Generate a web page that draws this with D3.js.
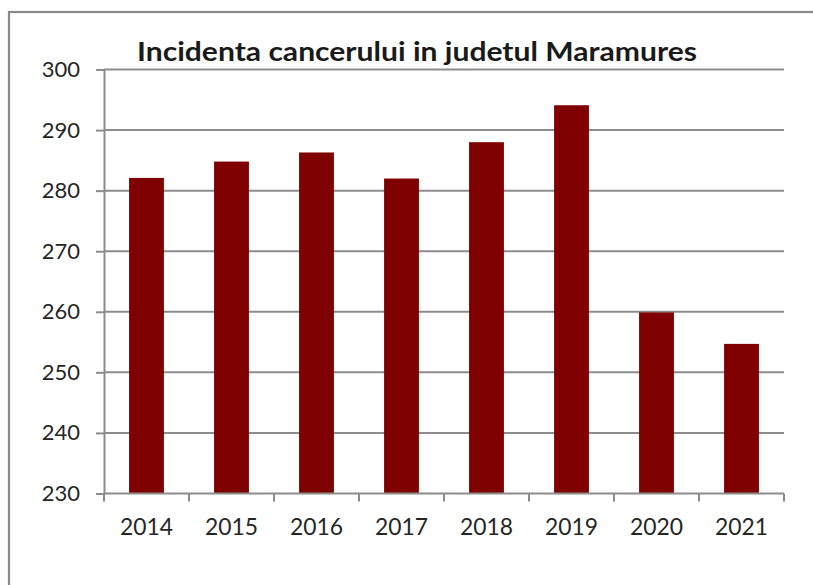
<!DOCTYPE html>
<html>
<head>
<meta charset="utf-8">
<script src="https://cdn.jsdelivr.net/npm/d3@7"></script>
<style>
  html, body { margin: 0; padding: 0; background: #fff; overflow: hidden; }
  svg { display: block; }
  text { font-family: Lato, "Liberation Sans", sans-serif; fill: #262626; }
</style>
</head>
<body>
<svg id="chart" width="813" height="585"></svg>
<script>
// Annual cancer incidence, Maramures county
const years = ["2014", "2015", "2016", "2017", "2018", "2019", "2020", "2021"];
const incidence = [282.1, 284.8, 286.3, 282.0, 288.0, 294.1, 259.9, 254.7];
const yTicks = [230, 240, 250, 260, 270, 280, 290, 300];
const chartTitle = "Incidenta cancerului  in judetul Maramures";

const svg = d3.select("#chart");
const W = 813, H = 585;
const plot = { left: 104, right: 784, top: 69.5, bottom: 493.5 };

// Outer frame (only the top and left edges fall inside the view)
svg.append("rect")
  .attr("x", 9).attr("y", 12)
  .attr("width", W + 20).attr("height", H + 20)
  .attr("fill", "none")
  .attr("stroke", "#8a8a8a")
  .attr("stroke-width", 2.2);

const x = d3.scaleBand()
  .domain(years)
  .range([plot.left, plot.right])
  .paddingInner(0.59)
  .paddingOuter(0.295);

const y = d3.scaleLinear()
  .domain([230, 300])
  .range([plot.bottom, plot.top]);

// Horizontal gridlines
svg.append("g")
  .selectAll("line")
  .data(yTicks.filter(t => t > 230))
  .join("line")
  .attr("x1", plot.left).attr("x2", plot.right)
  .attr("y1", d => y(d)).attr("y2", d => y(d))
  .attr("stroke", "#8c8c8c")
  .attr("stroke-width", 2);

// Bars
svg.append("g")
  .selectAll("rect")
  .data(years.map((yr, i) => ({ yr, v: incidence[i] })))
  .join("rect")
  .attr("x", d => x(d.yr))
  .attr("width", x.bandwidth())
  .attr("y", d => y(d.v))
  .attr("height", d => y(230) - y(d.v))
  .attr("fill", "#7f0000");

// Y axis
const yAxis = d3.axisLeft(y)
  .tickValues(yTicks)
  .tickSize(8)
  .tickPadding(16)
  .tickFormat(d3.format("d"));
const gy = svg.append("g")
  .attr("transform", `translate(${plot.left},0)`)
  .call(yAxis);
gy.select(".domain").attr("stroke", "#8c8c8c").attr("stroke-width", 2);
gy.selectAll(".tick line").attr("stroke", "#8c8c8c").attr("stroke-width", 2);
gy.selectAll(".tick text")
  .attr("font-size", 22)
  .attr("fill", "#262626")
  .style("font-family", "Lato, sans-serif");

// X axis: ticks sit on category boundaries
const step = x.step();
const boundaries = d3.range(years.length + 1).map(i => plot.left + i * step);
const gx = svg.append("g");
gx.append("line")
  .attr("x1", plot.left).attr("x2", plot.right)
  .attr("y1", plot.bottom).attr("y2", plot.bottom)
  .attr("stroke", "#8c8c8c").attr("stroke-width", 2);
gx.selectAll("line.tick")
  .data(boundaries)
  .join("line")
  .attr("class", "tick")
  .attr("x1", d => d).attr("x2", d => d)
  .attr("y1", plot.bottom).attr("y2", plot.bottom + 8)
  .attr("stroke", "#8c8c8c").attr("stroke-width", 2);
gx.selectAll("text")
  .data(years)
  .join("text")
  .attr("x", d => x(d) + x.bandwidth() / 2)
  .attr("y", 535)
  .attr("text-anchor", "middle")
  .attr("font-size", 22.5)
  .attr("textLength", 53)
  .attr("lengthAdjust", "spacingAndGlyphs")
  .text(d => d);

// Title
svg.append("text")
  .attr("x", 137)
  .attr("y", 61)
  .attr("text-anchor", "start")
  .attr("font-size", 26.5)
  .attr("font-weight", "bold")
  .attr("textLength", 560)
  .attr("lengthAdjust", "spacingAndGlyphs")
  .style("fill", "#1a1a1a")
  .text(chartTitle);
</script>
</body>
</html>
